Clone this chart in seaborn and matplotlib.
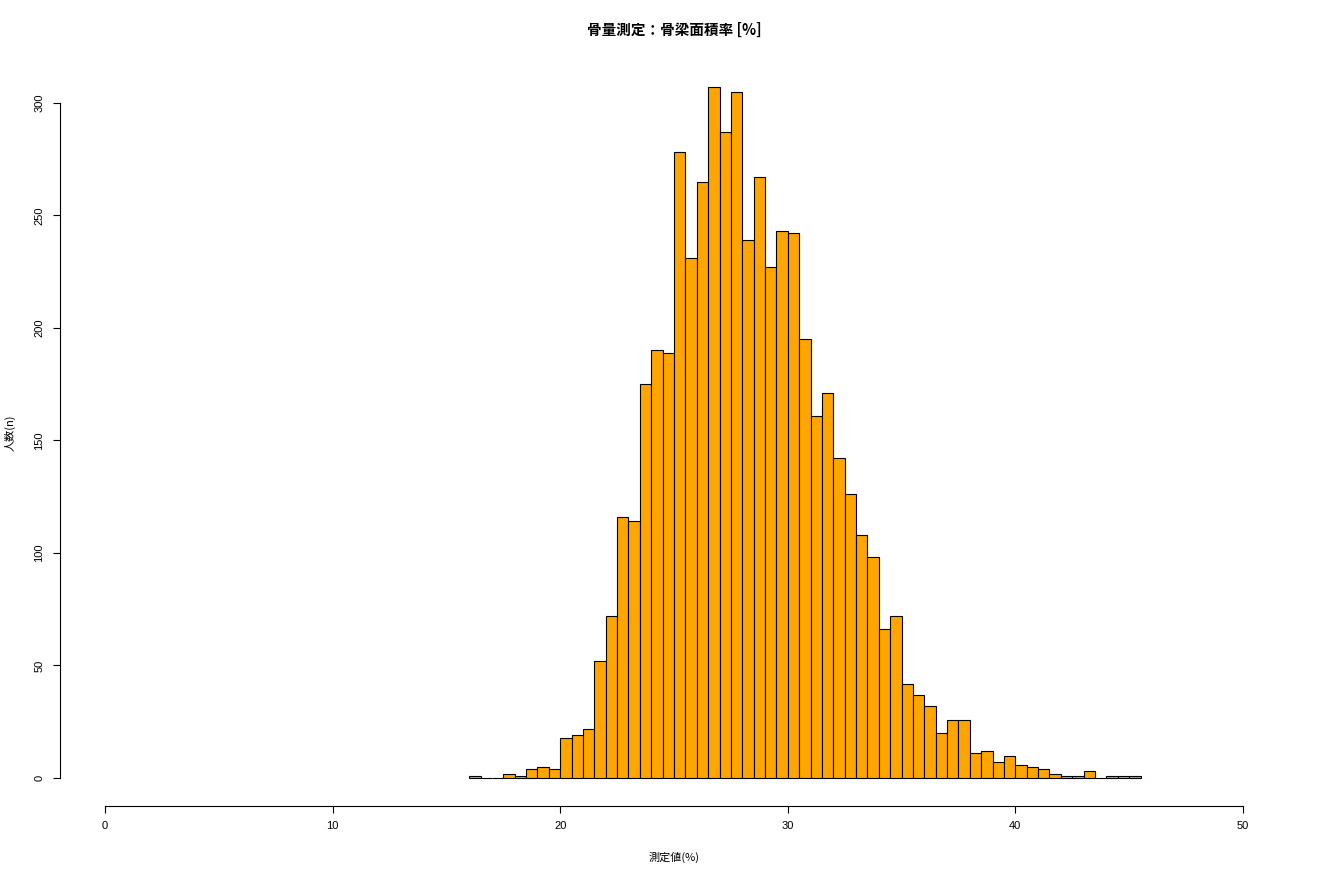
import matplotlib
matplotlib.use("Agg")
import matplotlib.pyplot as plt
import seaborn as sns
import numpy as np
import pandas as pd

sns.set_style("ticks")
plt.rcParams['font.family'] = ['Noto Sans CJK JP', 'DejaVu Sans']
plt.rcParams['text.color'] = 'black'

# histogram data (bin width 0.5 %)
bin_start = 16.0
bin_width = 0.5
counts = [1, 0, 0, 2, 1, 4, 5, 4, 18, 19,
          22, 52, 72, 116, 114, 175, 190, 189, 278, 231,
          265, 307, 287, 305, 239, 267, 227, 243, 242, 195,
          161, 171, 142, 126, 108, 98, 66, 72, 42, 37,
          32, 20, 26, 26, 11, 12, 7, 10, 6, 5,
          4, 2, 1, 1, 3, 0, 1, 1, 1]
x_ticks = [0, 10, 20, 30, 40, 50]
y_ticks = [0, 50, 100, 150, 200, 250, 300]

title = "骨量測定：骨梁面積率 [%]"
x_label = "測定値(%)"
y_label = "人数(n)"

edges = bin_start + bin_width * np.arange(len(counts) + 1)
df = pd.DataFrame({
    'value': (edges[:-1] + edges[1:]) / 2,
    'n': counts,
})

fig = plt.figure(figsize=(13.2, 8.8), dpi=100)
ax = fig.add_axes([0.0451, 0.0845, 0.9310, 0.8478])

sns.histplot(data=df, x='value', weights='n', binwidth=bin_width,
             binrange=(edges[0], edges[-1]), color="#FFA500",
             edgecolor="black", linewidth=0.8, alpha=1.0, ax=ax)

# R-style axis ranges (4% padding)
ax.set_xlim(-2, 52)
ymax = max(counts)
ax.set_ylim(-0.04 * ymax, 1.04 * ymax)

ax.spines['top'].set_visible(False)
ax.spines['right'].set_visible(False)
ax.spines['left'].set_bounds(0, 300)
ax.spines['bottom'].set_bounds(0, 50)
for s in ['left', 'bottom']:
    ax.spines[s].set_linewidth(0.8)
    ax.spines[s].set_color('black')

ax.set_xticks(x_ticks)
ax.set_yticks(y_ticks)
ax.tick_params(axis='both', direction='out', length=5, width=0.8,
               labelsize=8, colors='black', labelcolor='black')
ax.tick_params(axis='x', pad=6)
ax.tick_params(axis='y', pad=6)
for lab in ax.get_yticklabels():
    lab.set_rotation(90)
    lab.set_va('center')
for lab in ax.get_xticklabels() + ax.get_yticklabels():
    lab.set_family(['Liberation Sans', 'DejaVu Sans'])

ax.set_xlabel('')
ax.set_ylabel('')
ax.grid(False)

# titles placed in figure pixels like the R output
W, H = 1320, 880
fig.text(674 / W, 1 - 30 / H, title, fontsize=10.5, fontweight='bold',
         ha='center', va='center')
fig.text(674 / W, 1 - 857 / H, x_label, fontsize=8, ha='center', va='center')
fig.text(10 / W, 1 - 433 / H, y_label, fontsize=8, rotation=90,
         ha='center', va='center')

fig.savefig("out.png", dpi=100, facecolor='white')
